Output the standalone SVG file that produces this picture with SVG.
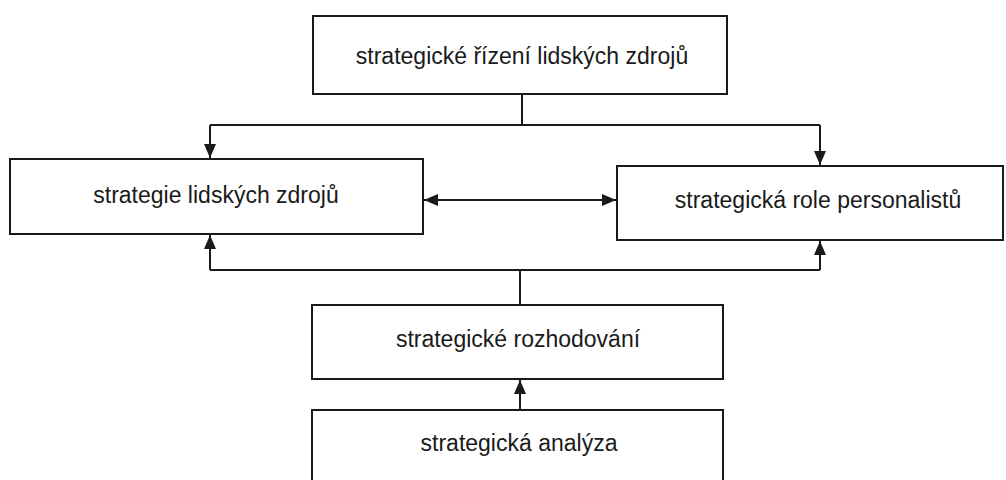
<svg xmlns="http://www.w3.org/2000/svg" width="1006" height="480" viewBox="0 0 1006 480">
<style>
.box{fill:#fff;stroke:#1a1a1a;stroke-width:2}
.lbl{font-family:"Liberation Sans",Arial,sans-serif;font-size:23px;fill:#1a1a1a;text-anchor:middle}
.con{fill:none;stroke:#1a1a1a;stroke-width:2}
</style>
<defs>
<marker id="ah" viewBox="0 0 14 12" refX="14" refY="6" markerWidth="14" markerHeight="12" markerUnits="userSpaceOnUse" orient="auto-start-reverse">
<path d="M0,0 L14,6 L0,12 Z" fill="#1a1a1a"/>
</marker>
</defs>
<rect width="1006" height="480" fill="#fff"/>
<g id="connectors">
<path class="con" d="M522,94 V125"/>
<path class="con" d="M210,125 H820"/>
<path class="con" d="M210,125 V158" marker-end="url(#ah)"/>
<path class="con" d="M820,125 V165" marker-end="url(#ah)"/>
<path class="con" d="M424,200 H616" marker-start="url(#ah)" marker-end="url(#ah)"/>
<path class="con" d="M210,270 H820"/>
<path class="con" d="M210,270 V235" marker-end="url(#ah)"/>
<path class="con" d="M820,270 V241" marker-end="url(#ah)"/>
<path class="con" d="M520,270 V305"/>
<path class="con" d="M520,410 V380" marker-end="url(#ah)"/>
</g>
<g id="n1">
<rect class="box" x="313" y="16" width="414" height="78"/>
<text class="lbl" x="522" y="64">strategické řízení lidských zdrojů</text>
</g>
<g id="n2">
<rect class="box" x="10" y="159" width="413" height="75"/>
<text class="lbl" x="216" y="203">strategie lidských zdrojů</text>
</g>
<g id="n3">
<rect class="box" x="617" y="166" width="386" height="74"/>
<text class="lbl" x="818" y="208">strategická role personalistů</text>
</g>
<g id="n4">
<rect class="box" x="312" y="305" width="411" height="74"/>
<text class="lbl" x="518" y="347">strategické rozhodování</text>
</g>
<g id="n5">
<rect class="box" x="312" y="410" width="411" height="80"/>
<text class="lbl" x="519" y="451">strategická analýza</text>
</g>
</svg>
